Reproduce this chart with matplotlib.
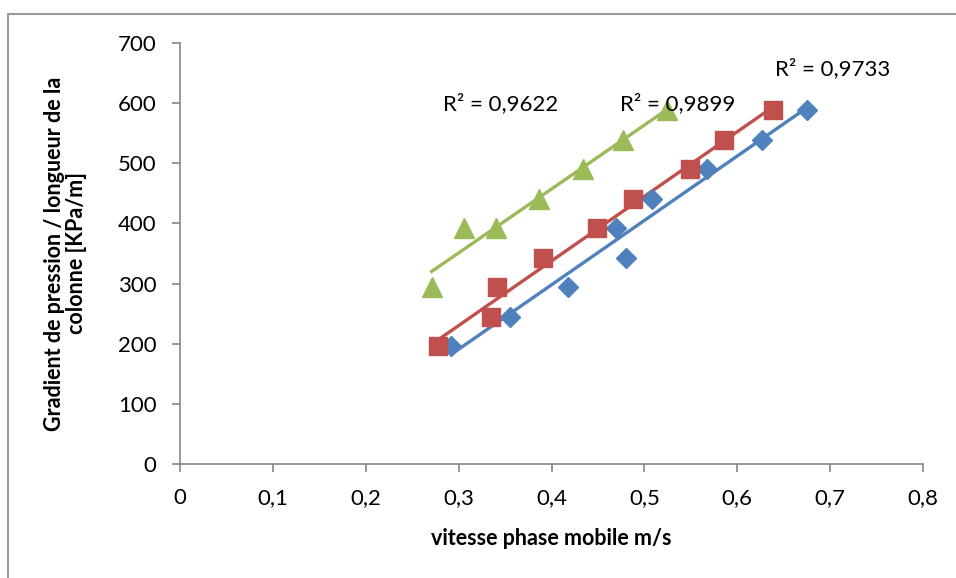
import numpy as np
import matplotlib
matplotlib.use("Agg")
import matplotlib.pyplot as plt
from matplotlib.patches import Rectangle

plt.rcParams['font.family'] = ['Lato', 'DejaVu Sans']

# Data
blue_x = [0.292, 0.355, 0.418, 0.469, 0.480, 0.508, 0.567, 0.627, 0.675]
blue_y = [196, 245, 294, 392, 343, 441, 490, 539, 588]
red_x = [0.278, 0.335, 0.341, 0.391, 0.449, 0.488, 0.549, 0.586, 0.639]
red_y = [196, 245, 294, 343, 392, 441, 490, 539, 588]
green_x = [0.271, 0.306, 0.340, 0.387, 0.434, 0.477, 0.524]
green_y = [294, 392, 392, 441, 490, 539, 588]
r2_labels = ["R² = 0,9733", "R² = 0,9899", "R² = 0,9622"]
x_ticks = [0, 0.1, 0.2, 0.3, 0.4, 0.5, 0.6, 0.7, 0.8]
x_ticklabels = ["0", "0,1", "0,2", "0,3", "0,4", "0,5", "0,6", "0,7", "0,8"]
y_ticks = [0, 100, 200, 300, 400, 500, 600, 700]

fig = plt.figure(figsize=(9.56, 5.78), dpi=100)
fig.patches.append(Rectangle((8/956, -0.1), 1.2, 1 - 14/578 + 0.1, transform=fig.transFigure,
                             fill=False, edgecolor='#9a9a9a', linewidth=1.5))
ax = fig.add_axes([180/956, 1 - 464/578, (923-180)/956, (464-43)/578])

series = [
    (blue_x, blue_y, '#4F81BD', 'D', 10),
    (red_x, red_y, '#C0504D', 's', 13),
    (green_x, green_y, '#9BBB59', '^', 14.5),
]
for xs, ys, c, m, ms in series:
    xs = np.array(xs); ys = np.array(ys)
    k, b = np.polyfit(xs, ys, 1)
    xl = np.array([xs.min(), xs.max()])
    ax.plot(xl, k*xl + b, color=c, lw=2.4, zorder=2)
    ax.plot(xs, ys, linestyle='none', marker=m, ms=ms, color=c, mec=c, zorder=3)

fs = 16
ax.text(0.641, 657, r2_labels[0], fontsize=fs, ha='left', va='center')
ax.text(0.474, 600, r2_labels[1], fontsize=fs, ha='left', va='center')
ax.text(0.283, 600, r2_labels[2], fontsize=fs, ha='left', va='center')

ax.set_xlim(0, 0.8)
ax.set_ylim(0, 700)
ax.set_xticks(x_ticks)
ax.set_xticklabels(x_ticklabels)
ax.set_yticks(y_ticks)
for s in ['top', 'right']:
    ax.spines[s].set_visible(False)
for s in ['left', 'bottom']:
    ax.spines[s].set_color('#868686')
    ax.spines[s].set_linewidth(1.2)
ax.tick_params(axis='both', direction='out', length=6, color='#868686', width=1.2,
               labelsize=fs, pad=11)
ax.set_xlabel("vitesse phase mobile m/s", fontsize=15.5, fontweight='bold', labelpad=15)
ax.set_ylabel("Gradient de pression / longueur de la\ncolonne [KPa/m]", fontsize=15.5,
              fontweight='bold', labelpad=22, linespacing=1.05)

fig.savefig("out.png", dpi=100)
